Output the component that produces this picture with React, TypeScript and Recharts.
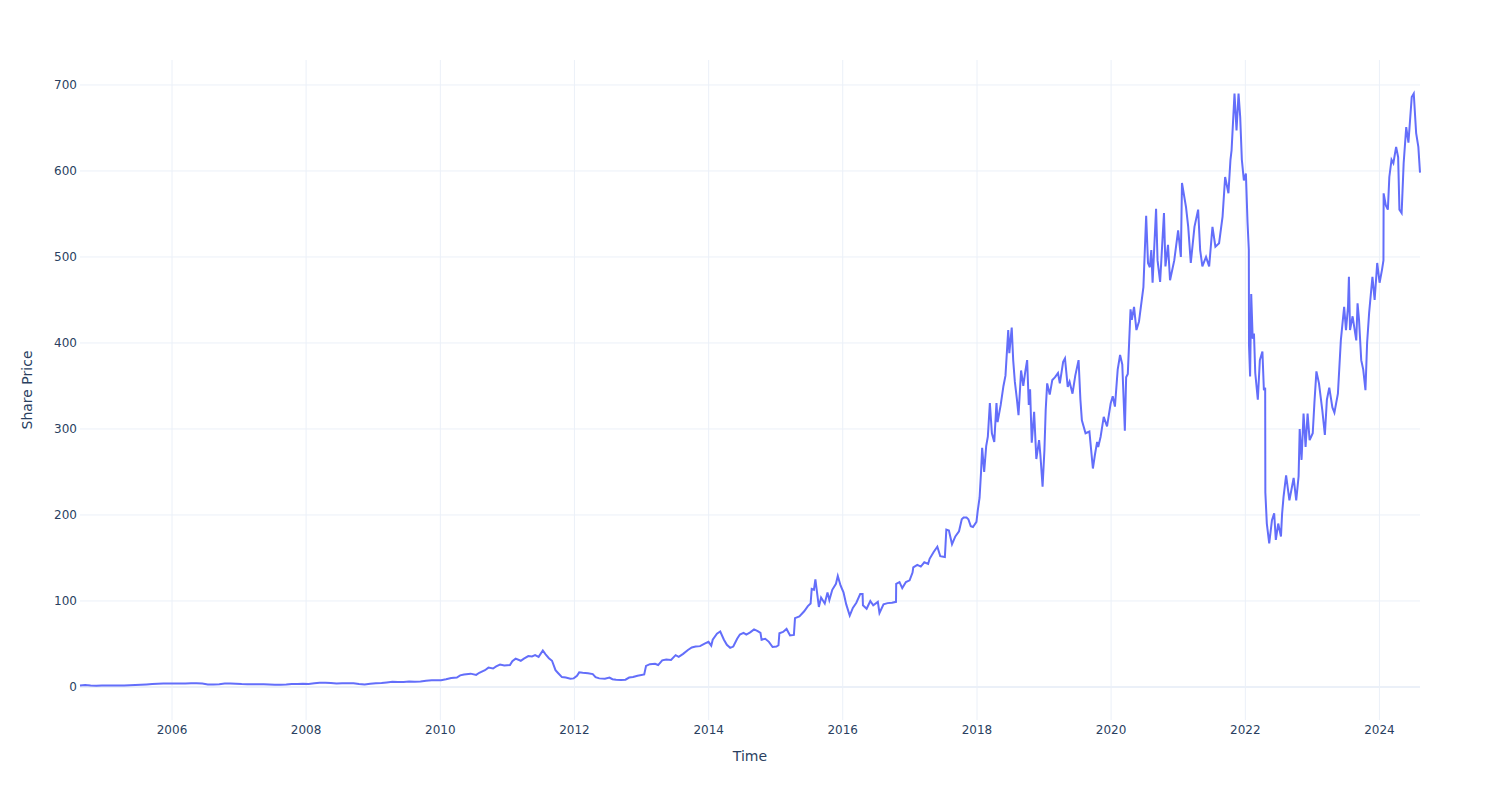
import { Line, LineChart, ReferenceLine, XAxis, YAxis } from "recharts";

// [date, close]
const prices2004to2009: [string, number][] = [
  ["2004-08-18", 1.6], ["2004-09-15", 2.2], ["2004-10-15", 1.6], ["2004-11-15", 1.5],
  ["2004-12-15", 1.7], ["2005-01-15", 1.6], ["2005-02-15", 1.6], ["2005-03-15", 1.6],
  ["2005-04-15", 1.7], ["2005-05-15", 2.0], ["2005-06-15", 2.3], ["2005-07-15", 2.6],
  ["2005-08-15", 3.0], ["2005-09-15", 3.5], ["2005-10-15", 3.8], ["2005-11-15", 3.9],
  ["2005-12-15", 3.9], ["2006-01-15", 4.0], ["2006-02-15", 4.1], ["2006-03-15", 4.1],
  ["2006-04-15", 4.3], ["2006-05-15", 4.2], ["2006-06-15", 4.0], ["2006-07-15", 3.0],
  ["2006-08-15", 2.9], ["2006-09-15", 3.3], ["2006-10-15", 3.9], ["2006-11-15", 4.0],
  ["2006-12-15", 3.7], ["2007-01-15", 3.4], ["2007-02-15", 3.3], ["2007-03-15", 3.3],
  ["2007-04-15", 3.2], ["2007-05-15", 3.1], ["2007-06-15", 2.8], ["2007-07-15", 2.6],
  ["2007-08-15", 2.6], ["2007-09-15", 2.9], ["2007-10-15", 3.5], ["2007-11-15", 3.5],
  ["2007-12-15", 3.8], ["2008-01-15", 3.6], ["2008-02-15", 4.2], ["2008-03-15", 4.8],
  ["2008-04-15", 4.8], ["2008-05-15", 4.5], ["2008-06-15", 4.0], ["2008-07-15", 4.2],
  ["2008-08-15", 4.4], ["2008-09-15", 4.4], ["2008-10-15", 3.5], ["2008-11-15", 2.8],
  ["2008-12-15", 3.8], ["2009-01-15", 4.4], ["2009-02-15", 4.5], ["2009-03-15", 5.2],
  ["2009-04-15", 6.0], ["2009-05-15", 5.8], ["2009-06-15", 5.9], ["2009-07-15", 6.3],
  ["2009-08-15", 6.1], ["2009-09-15", 6.5], ["2009-10-15", 7.3], ["2009-11-15", 7.8],
  ["2009-12-15", 7.9],
];

const prices2010to2013: [string, number][] = [
  ["2010-01-05", 7.9], ["2010-02-01", 9.0], ["2010-03-01", 10.5], ["2010-04-01", 11.0],
  ["2010-04-19", 13.5], ["2010-05-10", 14.5], ["2010-06-15", 15.5], ["2010-07-15", 14.0],
  ["2010-08-01", 16.5], ["2010-09-01", 19.5], ["2010-09-20", 22.5], ["2010-10-15", 21.5],
  ["2010-11-01", 24.0], ["2010-11-22", 26.0], ["2010-12-15", 25.0], ["2011-01-15", 25.5],
  ["2011-01-28", 30.0], ["2011-02-15", 33.0], ["2011-03-15", 30.5], ["2011-04-01", 33.0],
  ["2011-04-25", 36.0], ["2011-05-15", 35.5], ["2011-06-01", 37.0], ["2011-06-20", 35.0],
  ["2011-07-13", 42.5], ["2011-07-28", 38.0], ["2011-08-15", 33.5], ["2011-09-01", 30.5],
  ["2011-09-20", 19.5], ["2011-10-05", 16.0], ["2011-10-25", 11.5], ["2011-11-15", 11.0],
  ["2011-12-10", 9.5], ["2011-12-28", 10.0], ["2012-01-15", 13.0], ["2012-01-27", 17.0],
  ["2012-02-15", 16.5], ["2012-03-15", 16.0], ["2012-04-10", 15.0], ["2012-04-25", 11.5],
  ["2012-05-15", 10.0], ["2012-06-15", 9.5], ["2012-07-10", 11.0], ["2012-07-26", 9.0],
  ["2012-08-15", 8.5], ["2012-09-10", 8.0], ["2012-10-05", 8.5], ["2012-10-25", 11.0],
  ["2012-11-15", 11.5], ["2012-12-10", 13.0], ["2013-01-15", 14.5], ["2013-01-25", 24.5],
  ["2013-02-15", 26.5], ["2013-03-15", 27.0], ["2013-04-01", 25.5], ["2013-04-23", 31.0],
  ["2013-05-15", 32.0], ["2013-06-10", 31.5], ["2013-07-05", 37.0], ["2013-07-22", 35.0],
  ["2013-08-15", 38.5], ["2013-09-10", 43.0], ["2013-10-01", 46.0], ["2013-10-22", 47.0],
  ["2013-11-15", 47.5], ["2013-12-10", 50.5], ["2013-12-31", 52.5],
];

const prices2014to2017: [string, number][] = [
  ["2014-01-15", 48.0], ["2014-01-23", 55.0], ["2014-02-15", 62.0], ["2014-03-05", 64.5],
  ["2014-03-25", 55.0], ["2014-04-10", 49.0], ["2014-04-28", 45.5], ["2014-05-15", 47.0],
  ["2014-06-05", 56.0], ["2014-06-20", 61.0], ["2014-07-10", 63.0], ["2014-07-25", 61.0],
  ["2014-08-15", 63.5], ["2014-09-05", 67.0], ["2014-09-25", 65.0], ["2014-10-10", 63.0],
  ["2014-10-16", 55.0], ["2014-11-05", 56.0], ["2014-11-25", 52.5], ["2014-12-15", 46.5],
  ["2015-01-05", 47.0], ["2015-01-16", 48.5], ["2015-01-21", 62.5], ["2015-02-10", 64.0],
  ["2015-03-01", 67.5], ["2015-03-20", 60.0], ["2015-04-10", 60.5], ["2015-04-16", 80.0],
  ["2015-05-10", 82.0], ["2015-06-05", 88.0], ["2015-06-25", 94.0], ["2015-07-10", 97.0],
  ["2015-07-16", 114.0], ["2015-07-28", 113.0], ["2015-08-05", 125.0], ["2015-08-24", 93.0],
  ["2015-09-05", 104.0], ["2015-09-25", 97.0], ["2015-10-10", 110.0], ["2015-10-20", 101.0],
  ["2015-11-05", 113.0], ["2015-11-25", 120.0], ["2015-12-05", 129.0], ["2015-12-20", 118.0],
  ["2016-01-05", 110.0], ["2016-01-20", 96.0], ["2016-02-08", 83.0], ["2016-02-25", 92.0],
  ["2016-03-15", 98.0], ["2016-04-05", 108.0], ["2016-04-18", 108.0], ["2016-04-20", 95.0],
  ["2016-05-10", 91.0], ["2016-05-30", 100.0], ["2016-06-15", 95.0], ["2016-07-10", 99.0],
  ["2016-07-19", 86.0], ["2016-08-10", 96.0], ["2016-09-01", 97.5], ["2016-09-25", 98.0],
  ["2016-10-17", 99.0], ["2016-10-18", 120.0], ["2016-11-05", 122.0], ["2016-11-20", 115.0],
  ["2016-12-10", 122.0], ["2016-12-30", 124.0], ["2017-01-15", 133.0], ["2017-01-19", 139.0],
  ["2017-02-10", 142.0], ["2017-03-01", 140.0], ["2017-03-20", 145.0], ["2017-04-10", 143.0],
  ["2017-04-18", 149.0], ["2017-05-10", 157.0], ["2017-05-30", 163.0], ["2017-06-15", 152.0],
  ["2017-07-10", 151.0], ["2017-07-18", 183.0], ["2017-08-01", 182.0], ["2017-08-18", 166.0],
  ["2017-09-05", 175.0], ["2017-09-25", 181.0], ["2017-10-10", 195.0], ["2017-10-20", 197.0],
  ["2017-11-05", 197.0], ["2017-11-15", 195.0], ["2017-11-28", 187.0], ["2017-12-10", 186.0],
  ["2017-12-29", 192.0],
];

const prices2018to2019: [string, number][] = [
  ["2018-01-05", 205], ["2018-01-15", 220], ["2018-01-23", 250], ["2018-01-29", 278],
  ["2018-02-09", 250], ["2018-02-20", 280], ["2018-03-01", 291], ["2018-03-12", 330],
  ["2018-03-23", 295], ["2018-04-05", 285], ["2018-04-17", 330], ["2018-04-23", 308],
  ["2018-05-10", 328], ["2018-05-25", 350], ["2018-06-05", 362], ["2018-06-20", 415],
  ["2018-06-26", 388], ["2018-07-09", 418], ["2018-07-17", 380], ["2018-07-26", 355],
  ["2018-08-06", 335], ["2018-08-15", 316], ["2018-08-29", 368], ["2018-09-10", 350],
  ["2018-09-21", 367], ["2018-10-01", 380], ["2018-10-10", 328], ["2018-10-17", 346],
  ["2018-10-26", 284], ["2018-11-08", 320], ["2018-11-20", 265], ["2018-12-05", 287],
  ["2018-12-12", 270], ["2018-12-24", 233], ["2019-01-03", 275], ["2019-01-10", 322],
  ["2019-01-18", 353], ["2019-02-01", 340], ["2019-02-15", 357], ["2019-03-01", 360],
  ["2019-03-18", 365], ["2019-03-28", 353], ["2019-04-15", 378], ["2019-04-25", 382],
  ["2019-05-10", 349], ["2019-05-20", 355], ["2019-06-05", 341], ["2019-06-20", 362],
  ["2019-07-08", 380], ["2019-07-18", 334], ["2019-07-26", 310], ["2019-08-15", 295],
  ["2019-09-05", 297], ["2019-09-24", 254], ["2019-10-05", 270], ["2019-10-17", 285],
  ["2019-10-23", 279], ["2019-11-05", 291], ["2019-11-22", 314], ["2019-12-10", 303],
  ["2019-12-30", 330],
];

const prices2020to2021: [string, number][] = [
  ["2020-01-10", 338], ["2020-01-22", 326], ["2020-02-06", 369], ["2020-02-19", 386],
  ["2020-03-02", 375], ["2020-03-16", 298], ["2020-03-23", 360], ["2020-04-01", 364],
  ["2020-04-16", 439], ["2020-04-23", 427], ["2020-05-05", 442], ["2020-05-18", 415],
  ["2020-06-01", 425], ["2020-06-25", 465], ["2020-07-10", 548], ["2020-07-20", 493],
  ["2020-07-30", 488], ["2020-08-07", 508], ["2020-08-14", 470], ["2020-09-02", 556],
  ["2020-09-10", 496], ["2020-09-24", 471], ["2020-10-15", 551], ["2020-10-23", 489],
  ["2020-11-06", 514], ["2020-11-17", 473], ["2020-12-10", 496], ["2020-12-31", 531],
  ["2021-01-15", 500], ["2021-01-21", 586], ["2021-02-12", 558], ["2021-02-24", 535],
  ["2021-03-10", 493], ["2021-03-30", 535], ["2021-04-19", 555], ["2021-04-30", 508],
  ["2021-05-12", 489], ["2021-06-01", 500], ["2021-06-18", 489], ["2021-07-06", 535],
  ["2021-07-22", 512], ["2021-08-11", 516], ["2021-08-30", 547], ["2021-09-13", 593],
  ["2021-10-01", 574], ["2021-10-12", 613], ["2021-10-18", 624], ["2021-11-03", 690],
  ["2021-11-14", 647], ["2021-11-25", 690], ["2021-12-04", 663], ["2021-12-13", 613],
  ["2021-12-24", 589],
];

const prices2022to2024: [string, number][] = [
  ["2022-01-04", 597], ["2022-01-13", 540], ["2022-01-20", 508], ["2022-01-21", 397],
  ["2022-01-27", 361], ["2022-02-02", 457], ["2022-02-10", 405], ["2022-02-17", 411],
  ["2022-02-24", 365], ["2022-03-10", 334], ["2022-03-21", 380], ["2022-04-04", 390],
  ["2022-04-12", 345], ["2022-04-19", 348], ["2022-04-20", 226], ["2022-04-28", 190],
  ["2022-05-11", 167], ["2022-05-26", 194], ["2022-06-07", 202], ["2022-06-16", 171],
  ["2022-06-29", 190], ["2022-07-14", 175], ["2022-07-20", 201], ["2022-07-28", 221],
  ["2022-08-11", 246], ["2022-08-29", 217], ["2022-09-21", 243], ["2022-10-05", 217],
  ["2022-10-18", 245], ["2022-10-24", 300], ["2022-11-03", 264], ["2022-11-14", 318],
  ["2022-11-25", 279], ["2022-12-06", 318], ["2022-12-17", 287], ["2023-01-03", 295],
  ["2023-01-12", 330], ["2023-01-23", 367], ["2023-02-06", 353], ["2023-02-24", 322],
  ["2023-03-10", 293], ["2023-03-21", 334], ["2023-04-03", 348], ["2023-04-20", 325],
  ["2023-05-01", 319], ["2023-05-20", 341], ["2023-06-05", 403], ["2023-06-23", 442],
  ["2023-07-03", 415], ["2023-07-14", 442], ["2023-07-19", 477], ["2023-07-25", 415],
  ["2023-08-08", 431], ["2023-08-28", 403], ["2023-09-04", 446], ["2023-09-12", 427],
  ["2023-09-24", 380], ["2023-10-05", 369], ["2023-10-17", 345], ["2023-10-26", 400],
  ["2023-11-06", 435], ["2023-11-24", 477], ["2023-12-06", 450], ["2023-12-20", 493],
  ["2024-01-02", 470], ["2024-01-15", 485], ["2024-01-23", 496], ["2024-01-24", 574],
  ["2024-02-05", 560], ["2024-02-16", 555], ["2024-02-24", 593], ["2024-03-07", 613],
  ["2024-03-17", 609], ["2024-04-01", 628], ["2024-04-12", 616], ["2024-04-19", 555],
  ["2024-05-01", 551], ["2024-05-12", 609], ["2024-05-26", 651], ["2024-06-07", 633],
  ["2024-06-25", 686], ["2024-07-06", 690], ["2024-07-19", 644], ["2024-07-31", 628],
  ["2024-08-09", 598],
];

const yearTicks = [2006, 2008, 2010, 2012, 2014, 2016, 2018, 2020, 2022, 2024];
const priceTicks = [0, 100, 200, 300, 400, 500, 600, 700];

const data = [
  ...prices2004to2009,
  ...prices2010to2013,
  ...prices2014to2017,
  ...prices2018to2019,
  ...prices2020to2021,
  ...prices2022to2024,
].map(([d, p]) => ({ t: Date.parse(d), price: p }));

const yearStamps = yearTicks.map((y) => Date.UTC(y, 0, 1));

const FONT = "'DejaVu Sans', Verdana, sans-serif";
const TEXT = "#2a3f5f";
const GRID = "#EBF0F8";

export default function App() {
  return (
    <div style={{ position: "absolute", left: 0, top: 0, background: "#fff" }}>
      <LineChart
        width={1500}
        height={800}
        data={data}
        margin={{ top: 60, right: 80, bottom: 0, left: 0 }}
      >
        <XAxis
          dataKey="t"
          type="number"
          scale="time"
          domain={["dataMin", "dataMax"]}
          ticks={yearStamps}
          tickFormatter={(v) => String(new Date(v).getUTCFullYear())}
          height={80}
          axisLine={false}
          tickLine={false}
          tickSize={0}
          tickMargin={5}
          tick={{ fill: TEXT, fontSize: 12, fontFamily: FONT }}
          label={{
            content: ({ viewBox }: any) => (
              <text
                x={viewBox.x + viewBox.width / 2}
                y={761}
                textAnchor="middle"
                fill={TEXT}
                fontSize={14}
                fontFamily={FONT}
              >
                Time
              </text>
            ),
          }}
        />
        <YAxis
          type="number"
          domain={[-38.4, 729]}
          ticks={priceTicks}
          width={80}
          axisLine={false}
          tickLine={false}
          tickSize={0}
          tickMargin={3}
          tick={{ fill: TEXT, fontSize: 12, fontFamily: FONT }}
          label={{
            content: ({ viewBox }: any) => (
              <text
                x={27}
                y={viewBox.y + viewBox.height / 2}
                transform={`rotate(-90, 27, ${viewBox.y + viewBox.height / 2})`}
                textAnchor="middle"
                dominantBaseline="central"
                fill={TEXT}
                fontSize={14}
                fontFamily={FONT}
              >
                Share Price
              </text>
            ),
          }}
        />
        {yearStamps.map((t) => (
          <ReferenceLine key={`x${t}`} x={t} stroke={GRID} strokeWidth={1} />
        ))}
        {priceTicks.filter((v) => v !== 0).map((v) => (
          <ReferenceLine key={`y${v}`} y={v} stroke={GRID} strokeWidth={1} />
        ))}
        <ReferenceLine y={0} stroke={GRID} strokeWidth={2} />
        <Line
          type="linear"
          dataKey="price"
          stroke="#636efa"
          strokeWidth={2}
          dot={false}
          isAnimationActive={false}
        />
      </LineChart>
    </div>
  );
}
